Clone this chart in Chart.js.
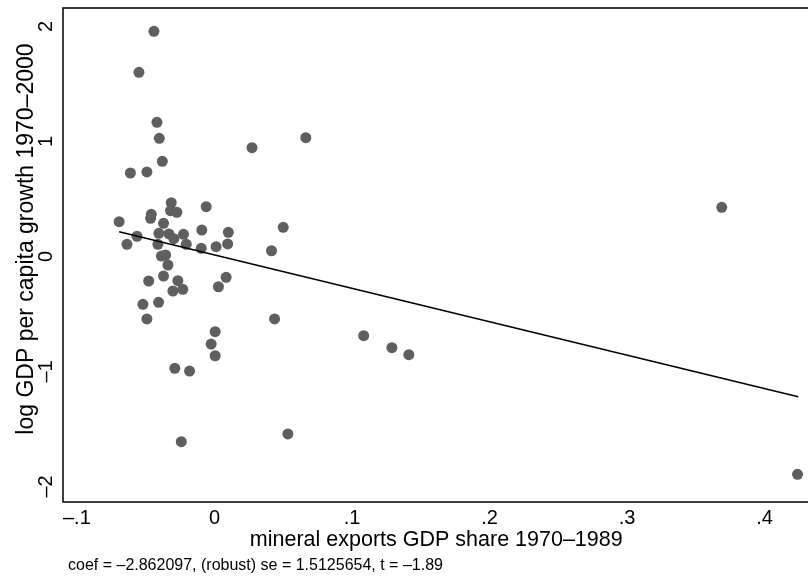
<!DOCTYPE html>
<html>
<head>
<title>mineral exports and growth, added-variable plot</title>
<script src="https://cdn.jsdelivr.net/npm/chart.js@4.4.0/dist/chart.umd.min.js"></script>
<style>
body{margin:0;overflow:hidden;background:#fff}
</style>
</head>
<body>
<canvas id="avplot" width="815" height="581"></canvas>
<script>
// residuals
mineralShare=[-0.0440,-0.0549,-0.0418,-0.0401,-0.0379,-0.0611,-0.0491,0.0273,0.0664,-0.0314,
  -0.0459,-0.0464,-0.0319,-0.0273,-0.0060,-0.0693,-0.0370,-0.0563,-0.0636,-0.0404,
  -0.0331,-0.0295,-0.0225,-0.0092,0.0101,0.0500,-0.0411,-0.0205,-0.0096,0.0012,
  0.0096,0.0415,-0.0386,-0.0355,-0.0338,-0.0370,-0.0478,-0.0266,-0.0302,-0.0230,
  0.0085,0.0029,-0.0520,-0.0406,-0.0491,0.0437,0.0005,-0.0024,0.0005,-0.0288,
  -0.0181,-0.0241,0.0534,0.3688,0.1085,0.1290,0.1413,0.4239]
growth=[1.958,1.602,1.167,1.028,0.828,0.726,0.735,0.946,1.033,0.468,
  0.367,0.332,0.398,0.384,0.433,0.303,0.289,0.176,0.106,0.202,
  0.196,0.155,0.193,0.230,0.210,0.254,0.106,0.106,0.071,0.085,
  0.109,0.050,0.004,0.013,-0.074,-0.170,-0.213,-0.210,-0.300,-0.285,
  -0.181,-0.263,-0.416,-0.398,-0.543,-0.543,-0.654,-0.761,-0.863,-0.972,
  -0.996,-1.610,-1.543,0.428,-0.689,-0.793,-0.854,-1.894]
fitX=[-0.0693,0.4244]
fitY=[0.215,-1.219]
xTicks=[-0.1,0,0.1,0.2,0.3,0.4]
xTickLabels=['\u2013.1','0','.1','.2','.3','.4']
yTicks=[-2,-1,0,1,2]
yTickLabels=['\u20132','\u20131','0','1','2']
xTitle='mineral exports GDP share 1970\u20131989'
yTitle='     log GDP per capita growth 1970\u20132000'
note='coef = \u20132.862097, (robust) se = 1.5125654, t = \u20131.89'

fam='"Liberation Sans", Arial, sans-serif'

points=mineralShare.map((v,i)=>({x:v,y:growth[i]}))
fitLine=fitX.map((v,i)=>({x:v,y:fitY[i]}))

// frame round the plot region and the note under the axis title
frame={
  id:'frame',
  afterDraw(c){
    a=c.chartArea
    ctx=c.ctx
    ctx.save()
    ctx.strokeStyle='#000'
    ctx.lineWidth=1.5
    ctx.strokeRect(a.left,a.top,a.right-a.left,a.bottom-a.top)
    ctx.fillStyle='#000'
    ctx.font='16px '+fam
    ctx.textBaseline='middle'
    ctx.fillText(note,a.left+5,566)
    ctx.restore()
  }
}

chart=new Chart(document.getElementById('avplot'),{
  type:'scatter',
  data:{
    datasets:[{
      type:'line',
      data:fitLine,
      borderColor:'#000',
      borderWidth:1.6,
      pointRadius:0,
      fill:false,
      order:0
    },{
      data:points,
      backgroundColor:'#5f5f5f',
      borderWidth:0,
      pointRadius:5.5,
      pointHoverRadius:5.5,
      order:1
    }]
  },
  options:{
    responsive:false,
    animation:false,
    events:[],
    layout:{padding:{top:8,right:3,bottom:27,left:0}},
    plugins:{legend:{display:false},tooltip:{enabled:false}},
    scales:{
      x:{
        type:'linear',
        min:-0.1101,
        max:0.4326,
        afterBuildTicks(s){s.ticks=xTicks.map(v=>({value:v}))},
        afterFit(s){s.height=52;s.paddingLeft=0;s.paddingRight=0},
        grid:{display:false,drawTicks:false},
        border:{display:false},
        ticks:{
          padding:4,
          color:'#000',
          font:{family:fam,size:20},
          maxRotation:0,
          callback:(v)=>xTickLabels[xTicks.indexOf(v)]
        },
        title:{display:true,text:xTitle,color:'#000',font:{family:fam,size:21.5},padding:{top:0,bottom:1}}
      },
      y:{
        type:'linear',
        min:-2.1348,
        max:2.1609,
        afterBuildTicks(s){s.ticks=yTicks.map(v=>({value:v}))},
        afterFit(s){s.width=63;s.paddingTop=0;s.paddingBottom=0},
        grid:{display:false,drawTicks:false},
        border:{display:false},
        ticks:{
          padding:5,
          color:'#000',
          crossAlign:'center',
          minRotation:90,
          maxRotation:90,
          font:{family:fam,size:20},
          callback:(v)=>yTickLabels[yTicks.indexOf(v)]
        },
        title:{display:true,text:yTitle,color:'#000',font:{family:fam,size:23},padding:{top:13,bottom:0}}
      }
    }
  },
  plugins:[frame]
})
</script>
</body>
</html>
